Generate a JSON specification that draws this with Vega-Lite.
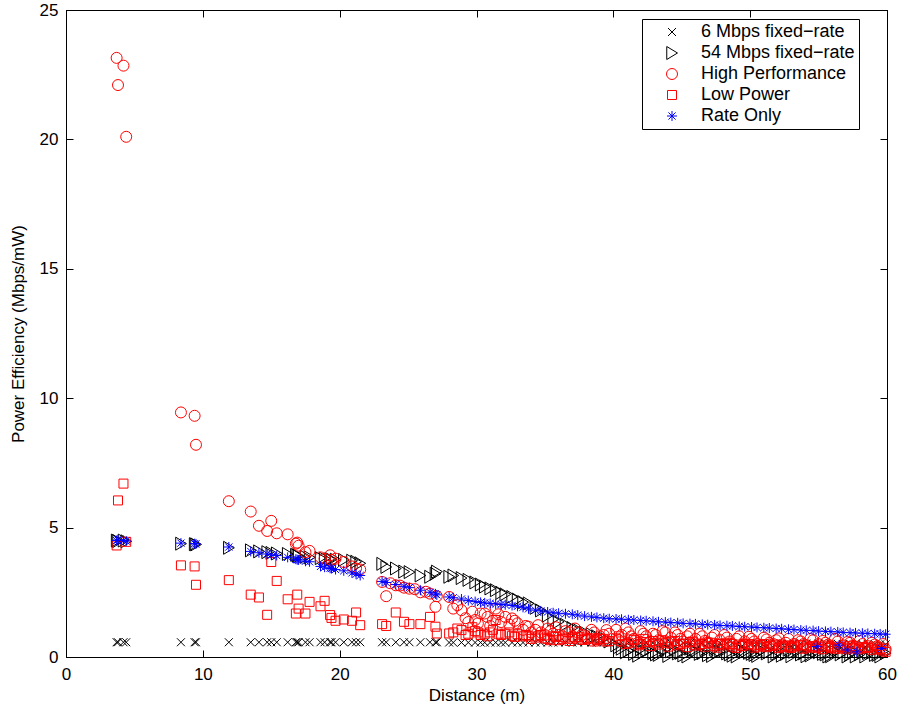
{
  "$schema": "https://vega.github.io/schema/vega-lite/v6.json",
  "width": 821,
  "height": 647,
  "autosize": {"type": "none"},
  "padding": {"left": 66, "top": 10, "right": 16, "bottom": 50},
  "background": "white",
  "config": {
    "font": "Liberation Sans",
    "view": {"stroke": "black", "strokeWidth": 1},
    "axis": {
      "grid": false,
      "domainColor": "black",
      "tickColor": "black",
      "labelColor": "black",
      "titleColor": "black",
      "labelFont": "Liberation Sans",
      "titleFont": "Liberation Sans",
      "labelFontSize": 17,
      "titleFontSize": 17,
      "titleFontWeight": "normal",
      "labelFlush": false,
      "ticks": true,
      "tickSize": -7,
      "tickWidth": 1,
      "domainWidth": 1
    }
  },
  "data": {
    "values": [
      {"d":3.7,"a":0.57,"b":4.5,"h":23.15,"l":4.31,"r":4.5},
      {"d":3.8,"a":0.57,"b":4.48,"h":22.1,"l":6.05,"r":4.52},
      {"d":4.2,"a":0.57,"b":4.5,"h":22.85,"l":6.7,"r":4.5},
      {"d":4.4,"a":0.57,"b":4.47,"h":20.1,"l":4.45,"r":4.48},
      {"d":8.4,"a":0.57,"b":4.38,"h":9.45,"l":3.54,"r":4.4},
      {"d":9.4,"a":0.57,"b":4.36,"h":9.32,"l":3.5,"r":4.38},
      {"d":9.5,"a":0.57,"b":4.35,"h":8.2,"l":2.79,"r":4.37},
      {"d":11.9,"a":0.57,"b":4.22,"h":6.02,"l":2.97,"r":4.25},
      {"d":13.5,"a":0.57,"b":4.12,"h":5.62,"l":2.41,"r":4.08},
      {"d":14.1,"a":0.57,"b":4.08,"h":5.07,"l":2.3,"r":4.03},
      {"d":14.7,"a":0.57,"b":4.05,"h":4.87,"l":1.63,"r":3.98},
      {"d":15.0,"a":0.57,"b":4.02,"h":5.26,"l":3.67,"r":3.95},
      {"d":15.4,"a":0.57,"b":4.0,"h":4.78,"l":2.94,"r":3.92},
      {"d":16.2,"a":0.57,"b":3.98,"h":4.74,"l":2.23,"r":3.85},
      {"d":16.8,"a":0.57,"b":3.95,"h":4.38,"l":1.68,"r":3.78},
      {"d":16.9,"a":0.57,"b":3.93,"h":4.42,"l":2.41,"r":3.76},
      {"d":17.0,"a":0.57,"b":3.9,"h":4.3,"l":1.87,"r":3.75},
      {"d":17.5,"a":0.57,"b":3.87,"h":4.05,"l":1.68,"r":3.7},
      {"d":17.8,"a":0.57,"b":3.85,"h":4.1,"l":2.13,"r":3.68},
      {"d":18.6,"a":0.57,"b":3.82,"h":3.85,"l":1.96,"r":3.5},
      {"d":18.9,"a":0.57,"b":3.8,"h":3.8,"l":2.17,"r":3.47},
      {"d":19.3,"a":0.57,"b":3.78,"h":3.93,"l":1.62,"r":3.43},
      {"d":19.4,"a":0.57,"b":3.77,"h":3.75,"l":1.51,"r":3.42},
      {"d":19.7,"a":0.57,"b":3.76,"h":3.8,"l":1.4,"r":3.38},
      {"d":20.3,"a":0.57,"b":3.75,"h":3.67,"l":1.45,"r":3.33},
      {"d":20.9,"a":0.57,"b":3.72,"h":3.5,"l":1.4,"r":3.25},
      {"d":21.2,"a":0.57,"b":3.68,"h":3.42,"l":1.72,"r":3.2},
      {"d":21.5,"a":0.57,"b":3.62,"h":3.38,"l":1.23,"r":3.15},
      {"d":23.1,"a":0.57,"b":3.6,"h":2.9,"l":1.27,"r":2.92},
      {"d":23.4,"a":0.57,"b":3.48,"h":2.35,"l":1.2,"r":2.88},
      {"d":24.1,"a":0.57,"b":3.42,"h":2.77,"l":1.72,"r":2.8},
      {"d":24.7,"a":0.57,"b":3.3,"h":2.68,"l":1.36,"r":2.73},
      {"d":25.1,"a":0.57,"b":3.28,"h":2.64,"l":1.27,"r":2.68},
      {"d":25.9,"a":0.57,"b":3.15,"h":2.5,"l":1.27,"r":2.58},
      {"d":26.6,"a":0.57,"b":3.1,"h":2.45,"l":1.55,"r":2.5},
      {"d":27.0,"a":0.57,"b":3.22,"h":1.94,"l":1.17,"r":2.44},
      {"d":27.1,"a":0.57,"b":3.3,"h":2.35,"l":0.91,"r":2.4},
      {"d":28.0,"a":0.56,"b":3.1,"h":2.32,"l":0.91,"r":2.32},
      {"d":28.3,"a":0.56,"b":3.15,"h":1.87,"l":0.95,"r":2.29},
      {"d":28.9,"a":0.56,"b":3.05,"h":1.81,"l":1.04,"r":2.24},
      {"d":29.4,"a":0.56,"b":2.98,"h":1.35,"l":0.9,"r":2.18},
      {"d":29.9,"a":0.56,"b":2.88,"h":1.43,"l":1.0,"r":2.14},
      {"d":30.3,"a":0.56,"b":2.8,"h":1.68,"l":0.85,"r":2.11},
      {"d":30.6,"a":0.56,"b":2.72,"h":1.68,"l":0.9,"r":2.09},
      {"d":31.0,"a":0.56,"b":2.65,"h":1.2,"l":0.95,"r":2.07},
      {"d":31.4,"a":0.56,"b":2.58,"h":1.87,"l":1.43,"r":2.05},
      {"d":31.8,"a":0.56,"b":2.48,"h":1.35,"l":0.85,"r":2.03},
      {"d":32.1,"a":0.56,"b":2.42,"h":1.55,"l":0.9,"r":2.02},
      {"d":32.6,"a":0.56,"b":2.32,"h":1.49,"l":0.82,"r":1.99},
      {"d":33.0,"a":0.56,"b":2.22,"h":1.3,"l":0.88,"r":1.96},
      {"d":33.4,"a":0.56,"b":2.12,"h":1.05,"l":0.8,"r":1.92},
      {"d":33.8,"a":0.56,"b":2.07,"h":1.17,"l":0.8,"r":1.86},
      {"d":34.3,"a":0.56,"b":1.9,"h":1.05,"l":0.75,"r":1.81},
      {"d":34.7,"a":0.56,"b":1.8,"h":0.95,"l":0.85,"r":1.78},
      {"d":35.2,"a":0.56,"b":1.6,"h":1.1,"l":0.7,"r":1.74},
      {"d":35.6,"a":0.56,"b":1.45,"h":0.9,"l":0.8,"r":1.71},
      {"d":36.0,"a":0.56,"b":1.36,"h":0.85,"l":0.65,"r":1.69},
      {"d":36.5,"a":0.56,"b":1.25,"h":1.0,"l":0.75,"r":1.67},
      {"d":37.0,"a":0.56,"b":1.12,"h":0.8,"l":0.7,"r":1.65},
      {"d":37.4,"a":0.56,"b":1.05,"h":0.95,"l":0.78,"r":1.62},
      {"d":37.9,"a":0.56,"b":0.95,"h":0.75,"l":0.68,"r":1.58},
      {"d":38.4,"a":0.56,"b":0.88,"h":1.05,"l":0.72,"r":1.55},
      {"d":38.8,"a":0.56,"b":0.8,"h":0.7,"l":0.65,"r":1.53},
      {"d":39.3,"a":0.56,"b":0.72,"h":0.85,"l":0.7,"r":1.5},
      {"d":39.7,"a":0.56,"b":0.6,"h":0.9,"l":0.62,"r":1.48},
      {"d":40.2,"a":0.56,"b":0.45,"h":1.05,"l":0.72,"r":1.47},
      {"d":40.6,"a":0.55,"b":0.32,"h":0.85,"l":0.6,"r":1.46},
      {"d":41.1,"a":0.56,"b":0.24,"h":0.95,"l":0.55,"r":1.44},
      {"d":41.5,"a":0.55,"b":0.12,"h":0.7,"l":0.65,"r":1.43},
      {"d":42.0,"a":0.55,"b":0.3,"h":1.0,"l":0.5,"r":1.41},
      {"d":42.4,"a":0.54,"b":0.22,"h":0.8,"l":0.58,"r":1.4},
      {"d":42.9,"a":0.55,"b":0.15,"h":0.9,"l":0.62,"r":1.38},
      {"d":43.3,"a":0.55,"b":0.08,"h":0.65,"l":0.48,"r":1.36},
      {"d":43.8,"a":0.54,"b":0.3,"h":0.95,"l":0.55,"r":1.35},
      {"d":44.2,"a":0.55,"b":0.22,"h":0.75,"l":0.6,"r":1.33},
      {"d":44.7,"a":0.54,"b":0.14,"h":0.85,"l":0.45,"r":1.32},
      {"d":45.1,"a":0.55,"b":0.06,"h":0.6,"l":0.52,"r":1.3},
      {"d":45.6,"a":0.54,"b":0.32,"h":0.9,"l":0.58,"r":1.29},
      {"d":46.0,"a":0.54,"b":0.24,"h":0.7,"l":0.44,"r":1.28},
      {"d":46.5,"a":0.55,"b":0.15,"h":0.8,"l":0.5,"r":1.26},
      {"d":46.9,"a":0.54,"b":0.07,"h":0.55,"l":0.56,"r":1.25},
      {"d":47.4,"a":0.53,"b":0.3,"h":0.85,"l":0.42,"r":1.24},
      {"d":47.8,"a":0.54,"b":0.22,"h":0.65,"l":0.5,"r":1.22},
      {"d":48.3,"a":0.53,"b":0.14,"h":0.75,"l":0.55,"r":1.21},
      {"d":48.7,"a":0.54,"b":0.05,"h":0.5,"l":0.4,"r":1.2},
      {"d":49.2,"a":0.53,"b":0.3,"h":0.8,"l":0.48,"r":1.18},
      {"d":49.6,"a":0.53,"b":0.2,"h":0.6,"l":0.52,"r":1.17},
      {"d":50.1,"a":0.54,"b":0.12,"h":0.7,"l":0.45,"r":1.16},
      {"d":50.5,"a":0.53,"b":0.04,"h":0.5,"l":0.4,"r":1.14},
      {"d":51.0,"a":0.53,"b":0.3,"h":0.75,"l":0.5,"r":1.13},
      {"d":51.4,"a":0.52,"b":0.2,"h":0.55,"l":0.42,"r":1.12},
      {"d":51.9,"a":0.53,"b":0.12,"h":0.65,"l":0.48,"r":1.1},
      {"d":52.3,"a":0.52,"b":0.05,"h":0.45,"l":0.38,"r":1.09},
      {"d":52.8,"a":0.52,"b":0.28,"h":0.7,"l":0.45,"r":1.07},
      {"d":53.2,"a":0.53,"b":0.2,"h":0.5,"l":0.4,"r":1.06},
      {"d":53.7,"a":0.52,"b":0.1,"h":0.6,"l":0.46,"r":1.04},
      {"d":54.1,"a":0.52,"b":0.03,"h":0.45,"l":0.36,"r":1.03},
      {"d":54.6,"a":0.51,"b":0.28,"h":0.65,"l":0.42,"r":1.02},
      {"d":55.0,"a":0.52,"b":0.18,"h":0.5,"l":0.38,"r":1.0},
      {"d":55.5,"a":0.51,"b":0.1,"h":0.55,"l":0.44,"r":0.99},
      {"d":55.9,"a":0.51,"b":0.03,"h":0.4,"l":0.35,"r":0.98},
      {"d":56.4,"a":0.51,"b":0.26,"h":0.6,"l":0.4,"r":0.97},
      {"d":56.8,"a":0.5,"b":0.18,"h":0.45,"l":0.36,"r":0.95},
      {"d":57.3,"a":0.51,"b":0.1,"h":0.55,"l":0.42,"r":0.94},
      {"d":57.7,"a":0.5,"b":0.02,"h":0.4,"l":0.33,"r":0.93},
      {"d":58.2,"a":0.5,"b":0.25,"h":0.5,"l":0.38,"r":0.92},
      {"d":58.6,"a":0.5,"b":0.15,"h":0.42,"l":0.35,"r":0.91},
      {"d":59.1,"a":0.5,"b":0.08,"h":0.48,"l":0.4,"r":0.9},
      {"d":59.5,"a":0.49,"b":0.02,"h":0.35,"l":0.3,"r":0.89},
      {"d":59.9,"a":0.49,"b":0.15,"h":0.3,"l":0.2,"r":0.88},
      {"d":23.7,"h":2.85},
      {"d":24.4,"h":2.76},
      {"d":25.5,"h":2.62},
      {"d":26.3,"h":2.52},
      {"d":28.6,"h":2.0,"l":1.1},
      {"d":29.2,"h":1.5,"l":0.85},
      {"d":29.7,"h":1.75,"l":1.15},
      {"d":30.1,"h":1.3,"l":0.95},
      {"d":30.8,"h":1.55,"l":0.8},
      {"d":31.2,"h":1.4,"l":1.05},
      {"d":31.6,"h":1.65,"l":0.9},
      {"d":32.4,"h":1.25,"l":0.95},
      {"d":32.8,"h":1.4,"l":0.78},
      {"d":33.6,"h":1.2,"l":0.85},
      {"d":34.0,"h":0.95,"l":0.7},
      {"d":34.5,"h":1.23,"l":0.8},
      {"d":35.0,"h":0.85,"l":0.72},
      {"d":35.4,"h":1.0,"l":0.65},
      {"d":35.8,"h":1.15,"l":0.78},
      {"d":36.3,"h":0.8,"l":0.7},
      {"d":36.8,"h":0.95,"l":0.62},
      {"d":37.2,"h":1.1,"l":0.75},
      {"d":37.7,"h":0.85,"l":0.66},
      {"d":38.1,"h":0.7,"l":0.72},
      {"d":38.6,"h":0.95,"l":0.6},
      {"d":39.0,"h":0.8,"l":0.7},
      {"d":39.5,"h":1.04,"l":0.6},
      {"d":40.4,"b":0.38,"h":0.65,"l":0.8},
      {"d":40.9,"b":0.18,"h":1.1,"l":0.5},
      {"d":41.3,"b":0.3,"h":0.8,"l":0.68},
      {"d":41.8,"b":0.05,"h":0.55,"l":0.45},
      {"d":42.2,"b":0.18,"h":0.9,"l":0.7},
      {"d":42.7,"b":0.32,"h":0.6,"l":0.42},
      {"d":43.1,"b":0.1,"h":0.85,"l":0.55},
      {"d":43.6,"b":0.2,"h":1.0,"l":0.65},
      {"d":44.0,"b":0.04,"h":0.55,"l":0.4},
      {"d":44.5,"b":0.28,"h":0.95,"l":0.62},
      {"d":44.9,"b":0.16,"h":0.7,"l":0.5},
      {"d":45.4,"b":0.02,"h":0.8,"l":0.38},
      {"d":45.8,"b":0.26,"h":0.5,"l":0.6},
      {"d":46.3,"b":0.12,"h":0.9,"l":0.48},
      {"d":46.7,"b":0.3,"h":0.62,"l":0.4},
      {"d":47.2,"b":0.04,"h":0.75,"l":0.55},
      {"d":47.6,"b":0.18,"h":0.48,"l":0.36},
      {"d":48.1,"b":0.26,"h":0.85,"l":0.45},
      {"d":48.5,"b":0.1,"h":0.6,"l":0.5},
      {"d":49.0,"b":0.02,"h":0.7,"l":0.35},
      {"d":49.4,"b":0.24,"h":0.45,"l":0.42},
      {"d":49.9,"b":0.16,"h":0.78,"l":0.5},
      {"d":50.3,"b":0.08,"h":0.6,"l":0.36},
      {"d":50.8,"b":0.25,"h":0.45,"l":0.46},
      {"d":51.2,"b":0.14,"h":0.68,"l":0.38},
      {"d":51.7,"b":0.02,"h":0.5,"l":0.44},
      {"d":52.1,"b":0.22,"h":0.72,"l":0.34},
      {"d":52.6,"b":0.12,"h":0.55,"l":0.42},
      {"d":53.0,"b":0.03,"h":0.4,"l":0.35},
      {"d":53.5,"b":0.24,"h":0.65,"l":0.44},
      {"d":53.9,"b":0.14,"h":0.5,"l":0.32},
      {"d":54.4,"b":0.06,"h":0.7,"l":0.4},
      {"d":54.8,"b":0.22,"h":0.42,"l":0.34},
      {"d":54.9,"r":0.4},
      {"d":55.3,"b":0.12,"h":0.62,"l":0.3},
      {"d":55.7,"b":0.02,"h":0.48,"l":0.4},
      {"d":56.2,"b":0.2,"h":0.7,"l":0.32},
      {"d":56.5,"r":0.46},
      {"d":56.6,"b":0.1,"h":0.35,"l":0.38},
      {"d":57.1,"b":0.02,"h":0.58,"l":0.3,"r":0.27},
      {"d":57.5,"b":0.2,"h":0.45,"l":0.36},
      {"d":57.8,"r":0.2},
      {"d":58.0,"b":0.1,"h":0.62,"l":0.3},
      {"d":58.4,"b":0.02,"h":0.38,"l":0.34},
      {"d":58.9,"b":0.18,"h":0.55,"l":0.28},
      {"d":59.3,"b":0.08,"h":0.42,"l":0.32},
      {"d":59.6,"r":0.33},
      {"d":59.7,"b":0.22,"h":0.5,"l":0.25}
    ]
  },
  "transform": [
    {"fold": ["a", "b", "h", "l", "r"], "as": ["s", "v"]},
    {"filter": "isValid(datum.v)"}
  ],
  "layer": [
    {
      "mark": {"type": "point", "filled": false, "strokeWidth": 1, "opacity": 1, "size": 100},
      "encoding": {
        "x": {
          "field": "d", "type": "quantitative",
          "scale": {"domain": [0, 60], "nice": false, "zero": false},
          "axis": {"values": [0, 10, 20, 30, 40, 50, 60], "title": "Distance (m)", "labelPadding": 16, "titlePadding": 5, "tickSize": -7}
        },
        "y": {
          "field": "v", "type": "quantitative",
          "scale": {"domain": [0, 25], "nice": false},
          "axis": {"values": [0, 5, 10, 15, 20, 25], "title": "Power Efficiency (Mbps/mW)", "labelPadding": 15, "titlePadding": 12, "tickSize": -7}
        },
        "shape": {
          "field": "s", "type": "nominal",
          "scale": {
            "domain": ["a", "b", "h", "l", "r"],
            "range": [
              "M-0.8,-0.8L0.8,0.8M-0.8,0.8L0.8,-0.8",
              "M-1.05,-1.3L1.1,0L-1.05,1.3Z",
              "M1.1,0A1.1,1.1,0,1,1,-1.1,0A1.1,1.1,0,1,1,1.1,0Z",
              "M-0.9,-0.9L0.9,-0.9L0.9,0.9L-0.9,0.9Z",
              "M0,-1L0,1M-1,0L1,0M-0.72,-0.72L0.72,0.72M-0.72,0.72L0.72,-0.72"
            ]
          },
          "legend": {
            "title": null,
            "orient": "none",
            "legendX": 576,
            "legendY": 9,
            "strokeColor": "black",
            "fillColor": "white",
            "padding": 4,
            "rowPadding": 3,
            "symbolSize": 100,
            "symbolOffset": 17,
            "labelOffset": 20,
            "labelFontSize": 18,
            "labelFont": "Liberation Sans",
            "labelColor": "black",
            "symbolStrokeWidth": 1,
            "labelLimit": 400,
            "labelExpr": "datum.label == 'a' ? '6 Mbps fixed−rate' : datum.label == 'b' ? '54 Mbps fixed−rate\u00a0\u00a0' : datum.label == 'h' ? 'High Performance' : datum.label == 'l' ? 'Low Power' : 'Rate Only'"
          }
        },
        "color": {
          "field": "s", "type": "nominal",
          "scale": {"domain": ["a", "b", "h", "l", "r"], "range": ["#000000", "#000000", "#ff0000", "#ff0000", "#0000ff"]},
          "legend": {"title": null}
        },
        "order": {"field": "s", "type": "ordinal", "sort": "ascending"}
      }
    },
    {
      "mark": {"type": "point", "opacity": 0},
      "encoding": {
        "x": {"field": "d", "type": "quantitative", "scale": {"domain": [0, 60], "nice": false, "zero": false}, "axis": {"orient": "top", "values": [0, 10, 20, 30, 40, 50, 60], "labels": false, "title": null, "tickSize": -7}},
        "y": {"field": "v", "type": "quantitative", "scale": {"domain": [0, 25], "nice": false}, "axis": {"orient": "right", "values": [0, 5, 10, 15, 20, 25], "labels": false, "title": null, "tickSize": -7}}
      }
    }
  ],
  "resolve": {"axis": {"x": "independent", "y": "independent"}}
}
